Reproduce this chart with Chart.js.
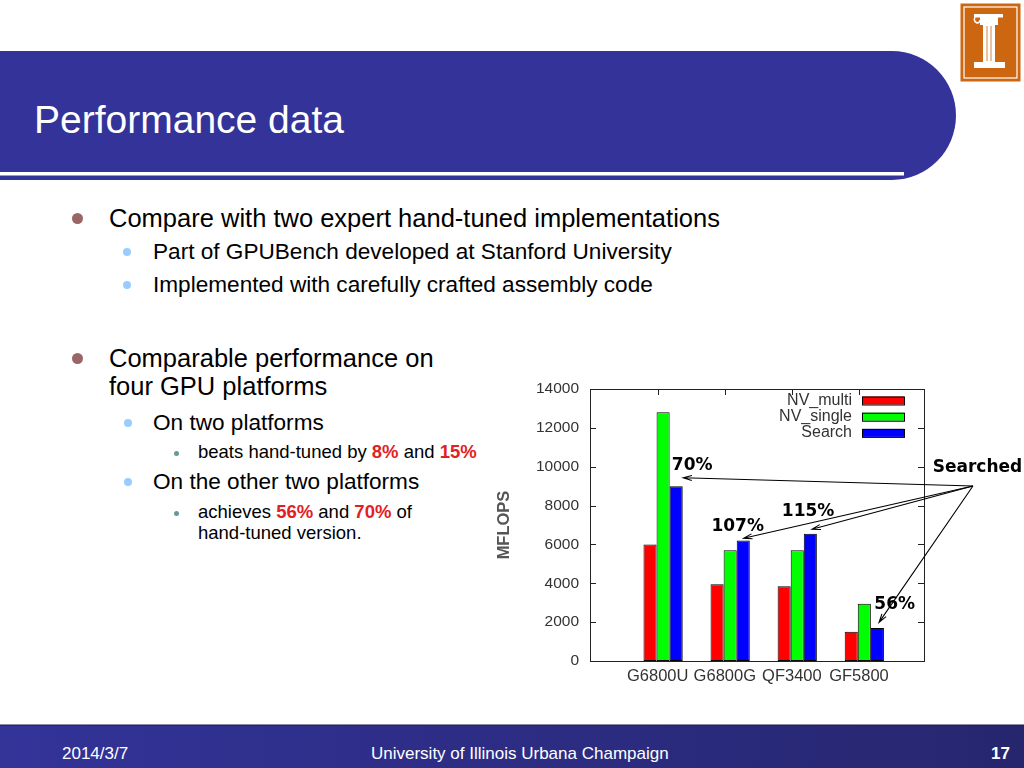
<!DOCTYPE html>
<html>
<head>
<meta charset="utf-8">
<script src="https://cdn.jsdelivr.net/npm/chart.js@4.4.1/dist/chart.umd.min.js"></script>
<style>
  html, body { margin: 0; padding: 0; background: #fff; }
  #slide { position: relative; width: 1024px; height: 768px; overflow: hidden; font-family: 'Liberation Sans', Arial, sans-serif; }
  .t { position: absolute; white-space: nowrap; color: #000; }
  .b { position: absolute; border-radius: 50%; }
  .red { color: #e31e24; font-weight: bold; }
  #chartBox { position: absolute; left: 490px; top: 375px; width: 534px; height: 320px; }
</style>
</head>
<body>
<div id="slide">
  <svg width="1024" height="768" style="position:absolute;left:0;top:0">
    <defs>
      <linearGradient id="foot" x1="0" y1="0" x2="1" y2="0">
        <stop offset="0" stop-color="#333399"/>
        <stop offset="1" stop-color="#26266f"/>
      </linearGradient>
    </defs>
    <!-- title bar -->
    <path d="M0,51 H892 A64,64.5 0 0 1 892,180 H0 Z" fill="#333399"/>
    <rect x="0" y="172" width="904" height="3.5" fill="#fff"/>
    <!-- logo -->
    <rect x="960.5" y="3.5" width="60" height="78" fill="#cc6611"/>
    <rect x="964" y="7" width="53" height="71" fill="none" stroke="#fff" stroke-width="1.2"/>
    <rect x="974" y="14" width="29" height="3.5" fill="#fff"/>
    <path d="M975,17 q-2,4 2,6 q3,0 3,-3" fill="none" stroke="#fff" stroke-width="1.5"/>
    <rect x="980" y="17" width="18" height="8" fill="#fff"/>
    <rect x="983" y="25" width="12" height="37" fill="#fff"/>
    <line x1="987" y1="26" x2="987" y2="61" stroke="#cc6611" stroke-width="0.8"/>
    <line x1="991" y1="26" x2="991" y2="61" stroke="#cc6611" stroke-width="0.8"/>
    <rect x="974" y="62" width="31" height="6" fill="#fff"/>
    <!-- footer -->
    <rect x="0" y="725" width="1024" height="43" fill="url(#foot)"/>
    <rect x="0" y="724.5" width="1024" height="1" fill="#1a1a4d"/>
  </svg>

  <div class="t" style="left:34px;top:100px;font-size:39px;line-height:39px;color:#fff">Performance data</div>

  <div class="b" style="left:71.5px;top:212.5px;width:11px;height:11px;background:#996666"></div>
  <div class="t" style="left:109px;top:205.5px;font-size:25.5px;line-height:25.5px">Compare with two expert hand-tuned implementations</div>
  <div class="b" style="left:123px;top:248px;width:8.4px;height:8.4px;background:#99ccff"></div>
  <div class="t" style="left:153px;top:241px;font-size:22.6px;line-height:22.6px">Part of GPUBench developed at Stanford University</div>
  <div class="b" style="left:123px;top:281px;width:8.4px;height:8.4px;background:#99ccff"></div>
  <div class="t" style="left:153px;top:274px;font-size:22.6px;line-height:22.6px">Implemented with carefully crafted assembly code</div>

  <div class="b" style="left:71.5px;top:352.5px;width:11px;height:11px;background:#996666"></div>
  <div class="t" style="left:109px;top:345.5px;font-size:25.5px;line-height:25.5px">Comparable performance on</div>
  <div class="t" style="left:109px;top:374px;font-size:25.5px;line-height:25.5px">four GPU platforms</div>
  <div class="b" style="left:123.5px;top:419px;width:8.4px;height:8.4px;background:#99ccff"></div>
  <div class="t" style="left:153px;top:411.6px;font-size:22.6px;line-height:22.6px">On two platforms</div>
  <div class="b" style="left:174px;top:450.5px;width:5.4px;height:5.4px;background:#669999"></div>
  <div class="t" style="left:198px;top:442.6px;font-size:18.5px;line-height:18.5px">beats hand-tuned by <span class="red">8%</span> and <span class="red">15%</span></div>
  <div class="b" style="left:123.5px;top:478px;width:8.4px;height:8.4px;background:#99ccff"></div>
  <div class="t" style="left:153px;top:470.6px;font-size:22.6px;line-height:22.6px">On the other two platforms</div>
  <div class="b" style="left:174px;top:510.5px;width:5.4px;height:5.4px;background:#669999"></div>
  <div class="t" style="left:198px;top:502.6px;font-size:18.5px;line-height:18.5px">achieves <span class="red">56%</span> and <span class="red">70%</span> of</div>
  <div class="t" style="left:198px;top:523.6px;font-size:18.5px;line-height:18.5px">hand-tuned version.</div>

  <div class="t" style="left:62px;top:745px;font-size:17px;line-height:17px;color:#fff">2014/3/7</div>
  <div class="t" style="left:371px;top:745px;font-size:17px;line-height:17px;color:#fff">University of Illinois Urbana Champaign</div>
  <div class="t" style="left:991px;top:745px;font-size:17px;line-height:17px;color:#fff;font-weight:bold">17</div>

  <div id="chartBox"><canvas id="perf" width="534" height="320"></canvas></div>
</div>

<script>
'use strict';
// values (MFLOPS)
const categories = ['G6800U', 'G6800G', 'QF3400', 'GF5800'];
const nvMulti  = [6000, 3950, 3850, 1500];
const nvSingle = [12800, 5700, 5700, 2950];
const search   = [9000, 6200, 6550, 1700];
const seriesNames  = ['NV_multi', 'NV_single', 'Search'];
const seriesColors = ['#ff0000', '#00ff00', '#0000ff'];
const yTicks = [0, 2000, 4000, 6000, 8000, 10000, 12000, 14000];

// annotations, in data units (x = category index, y = MFLOPS)
const notes      = ['70%', '107%', '115%', '56%'];
const noteAt     = [[0.13, 10040], [0.72, 6900], [1.77, 7670], [3.15, 2880]];
const arrowTips  = [[0.30, 9430], [1.20, 6320], [2.22, 6780], [3.22, 1990]];
const arrowFrom  = [4.62, 9010];
const searchedAt = [4.02, 9930];

const TICK_SHIFT = -0.08;   // gnuplot puts the xtics a bit left of the bar groups
const FONT = "'Liberation Sans', Arial, sans-serif";
const NOTE_FONT = "bold 17px 'DejaVu Sans', Verdana, sans-serif";

function drawArrow(ctx, x1, y1, x2, y2) {
  const a = Math.atan2(y2 - y1, x2 - x1), len = 9, spread = 0.28;
  ctx.beginPath();
  ctx.moveTo(x1, y1); ctx.lineTo(x2, y2);
  ctx.moveTo(x2 - len*Math.cos(a - spread), y2 - len*Math.sin(a - spread));
  ctx.lineTo(x2, y2);
  ctx.lineTo(x2 - len*Math.cos(a + spread), y2 - len*Math.sin(a + spread));
  ctx.stroke();
}

// frame + inward tick marks, gnuplot style
const framePlugin = {
  id: 'frame',
  beforeDatasetsDraw(chart) {
    const {ctx, chartArea: a, scales: {x, y}} = chart;
    ctx.save();
    ctx.strokeStyle = '#222'; ctx.lineWidth = 1;
    ctx.beginPath();
    yTicks.forEach(v => {
      const py = Math.round(y.getPixelForValue(v)) + 0.5;
      ctx.moveTo(a.left, py); ctx.lineTo(a.left + 6, py);
      ctx.moveTo(a.right, py); ctx.lineTo(a.right - 6, py);
    });
    x.ticks.forEach(t => {
      const px = Math.round(x.getPixelForValue(t.value)) + 0.5;
      ctx.moveTo(px, a.bottom); ctx.lineTo(px, a.bottom - 6);
      ctx.moveTo(px, a.top); ctx.lineTo(px, a.top + 6);
    });
    ctx.stroke();
    ctx.restore();
  },
  afterDatasetsDraw(chart) {
    const {ctx, chartArea: a} = chart;
    ctx.save();
    ctx.strokeStyle = '#222'; ctx.lineWidth = 1;
    ctx.strokeRect(Math.round(a.left) + 0.5, Math.round(a.top) + 0.5,
                   Math.round(a.right - a.left), Math.round(a.bottom - a.top));
    ctx.restore();
  }
};

// key in the top right corner: text, then sample box
const keyPlugin = {
  id: 'key',
  afterDraw(chart) {
    const {ctx, chartArea: a} = chart;
    ctx.save();
    ctx.font = '16px ' + FONT;
    ctx.textAlign = 'right'; ctx.textBaseline = 'middle';
    chart.data.datasets.forEach((ds, i) => {
      const cy = a.top + 11.5 + i * 16.2;
      ctx.fillStyle = '#333';
      ctx.fillText(ds.label, a.right - 72, cy);
      ctx.fillStyle = ds.backgroundColor;
      ctx.fillRect(a.right - 62, cy - 4, 42, 8);
      ctx.strokeStyle = '#000'; ctx.lineWidth = 1;
      ctx.strokeRect(a.right - 62 + 0.5, cy - 4 + 0.5, 42, 8);
    });
    ctx.restore();
  }
};

const notesPlugin = {
  id: 'notes',
  afterDraw(chart) {
    const {ctx, scales: {x, y}} = chart;
    ctx.save();
    ctx.strokeStyle = '#000'; ctx.lineWidth = 1.1;
    const fx = x.getPixelForValue(arrowFrom[0]), fy = y.getPixelForValue(arrowFrom[1]);
    arrowTips.forEach(([tx, ty]) => drawArrow(ctx, fx, fy, x.getPixelForValue(tx), y.getPixelForValue(ty)));
    ctx.fillStyle = '#000'; ctx.font = NOTE_FONT;
    ctx.textAlign = 'left'; ctx.textBaseline = 'middle';
    notes.forEach((n, i) => ctx.fillText(n, x.getPixelForValue(noteAt[i][0]), y.getPixelForValue(noteAt[i][1])));
    ctx.fillText('Searched', x.getPixelForValue(searchedAt[0]), y.getPixelForValue(searchedAt[1]));
    ctx.restore();
  }
};

const seriesValues = [nvMulti, nvSingle, search];

new Chart(document.getElementById('perf'), {
  type: 'bar',
  data: {
    datasets: seriesNames.map((name, k) => ({
      label: name,
      data: seriesValues[k].map((v, i) => ({x: i, y: v})),
      backgroundColor: seriesColors[k],
      borderColor: '#000',
      borderWidth: 1,
      borderSkipped: false,
      categoryPercentage: 0.585,
      barPercentage: 1.0
    }))
  },
  options: {
    responsive: false,
    animation: false,
    events: [],
    layout: { padding: { left: 0, right: 100, top: 14, bottom: 4 } },
    plugins: { legend: { display: false }, tooltip: { enabled: false } },
    scales: {
      x: {
        type: 'linear', min: -1.09, max: 3.89, offset: false,
        grid: { display: false, drawTicks: false, offset: false },
        border: { display: false },
        afterBuildTicks: s => { s.ticks = categories.map((c, i) => ({value: i + TICK_SHIFT})); },
        afterFit: s => { s.height = 30; },
        ticks: {
          autoSkip: false, maxRotation: 0, padding: 6,
          color: '#333', font: { family: FONT, size: 16.5 },
          callback: (v, i) => categories[i]
        }
      },
      y: {
        min: 0, max: 14000,
        grid: { display: false, drawTicks: true, tickLength: 7 },
        border: { display: false },
        afterBuildTicks: s => { s.ticks = yTicks.map(v => ({value: v})); },
        afterFit: s => { s.width = 100; },
        ticks: { padding: 4, color: '#333', font: { family: FONT, size: 15.5 }, callback: v => String(v) },
        title: { display: true, text: 'MFLOPS', color: '#555', font: { family: FONT, size: 16.5, weight: 'bold' }, padding: { top: 5, bottom: 0 } }
      }
    }
  },
  plugins: [framePlugin, keyPlugin, notesPlugin]
});
</script>
</body>
</html>
